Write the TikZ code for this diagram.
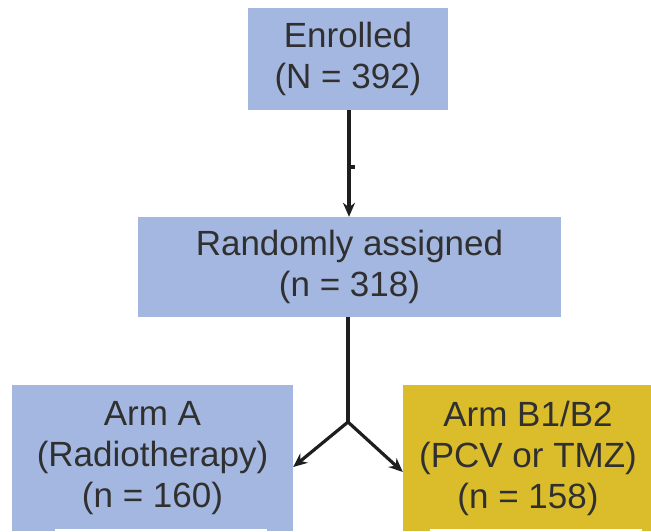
\documentclass[tikz,border=0pt]{standalone}
\usepackage{fontspec}
\setmainfont{Liberation Sans}
\usetikzlibrary{arrows.meta}
\definecolor{boxblue}{HTML}{A4B7E1}
\definecolor{boxgold}{HTML}{DBBD2C}
\definecolor{txt}{HTML}{303030}
\definecolor{ln}{HTML}{1E1E1E}
\tikzset{
  box/.style={draw=none, fill=boxblue, inner sep=0pt, align=center, text=txt,
    font=\fontsize{35}{41}\selectfont},
  conn/.style={draw=ln, line width=3.2pt, -{Stealth[length=14pt,width=12pt]}},
  plain/.style={draw=ln, line width=3.2pt}
}
\begin{document}
\begin{tikzpicture}[x=1pt,y=-1pt]
\useasboundingbox (0,0) rectangle (651,531);
\fill[white] (0,0) rectangle (651,531);
\begin{scope}
\clip (0,0) rectangle (651,531);
\node[box, minimum width=200pt, minimum height=102pt] (enr) at (348,59) {Enrolled\\(N = 392)};
\node[box, minimum width=423pt, minimum height=100pt] (rand) at (349.5,267) {Randomly assigned\\(n = 318)};
\node[box, minimum width=281pt, minimum height=146pt] (armA) at (152.5,458) {Arm A\\(Radiotherapy)\\(n = 160)};
\node[box, fill=boxgold, minimum width=250pt, minimum height=146pt] (armB) at (528,458) {Arm B1/B2\\(PCV or TMZ)\\(n = 158)};
\fill[white] (55,529) rectangle (267,531);
\fill[white] (430,529) rectangle (642,531);
\end{scope}
\coordinate (tick) at (349,167);
\coordinate (tickend) at (355,167);
\coordinate (junc) at (348,422);
\draw[conn] (enr.south -| 349,0) -- (rand.north -| 349,0);
\draw[plain] (tick) -- (tickend);
\draw[plain] (rand.south -| junc) -- (junc);
\draw[conn] (junc) -- (armA.east |- 0,467);
\draw[conn] (junc) -- (armB.west |- 0,472);
\end{tikzpicture}
\end{document}
